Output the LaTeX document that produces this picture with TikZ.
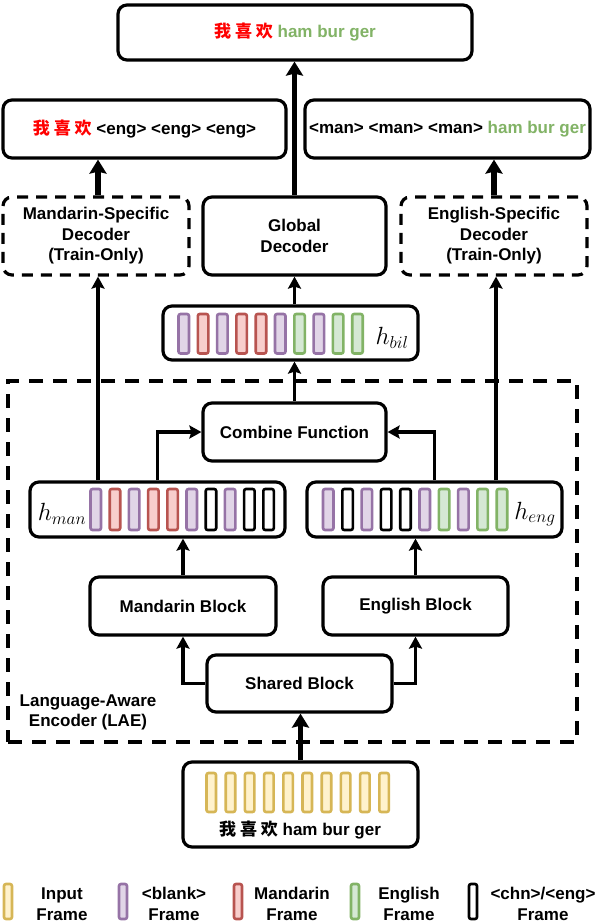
\documentclass[tikz,border=0pt]{standalone}
\usepackage{fontspec}
\setmainfont{Liberation Sans}
\newfontfamily\cjk{Noto Sans CJK SC}
\usetikzlibrary{arrows.meta,calc}
\definecolor{yfill}{HTML}{FFF2CC}\definecolor{ydraw}{HTML}{D6B656}
\definecolor{pfill}{HTML}{E1D5E7}\definecolor{pdraw}{HTML}{9673A6}
\definecolor{rfill}{HTML}{F8CECC}\definecolor{rdraw}{HTML}{B85450}
\definecolor{gfill}{HTML}{D5E8D4}\definecolor{gdraw}{HTML}{82B366}
\definecolor{redtxt}{HTML}{FF0000}\definecolor{greentxt}{HTML}{82B366}
\newcommand\bodyfont{\fontsize{17}{20.5}\selectfont\bfseries}
\newcommand\zh[1]{{\cjk\bfseries #1}}
\begin{document}
\begin{tikzpicture}[x=1pt,y=-1pt,
  box/.style={draw, line width=3.2pt, rounded corners=9pt, align=center, font=\bodyfont, fill=white, inner sep=0pt},
  dbox/.style={box, dash pattern=on 11pt off 8pt},
  arr/.style={line width=3.2pt, -{Stealth[length=12pt,width=13pt,inset=2pt]}},
  tarr/.style={line width=5.2pt, -{Stealth[length=14pt,width=17pt,inset=2pt]}},
  bar/.style={line width=2.6pt, rounded corners=2pt},
  yy/.style={bar, draw=ydraw, fill=yfill},
  pp/.style={bar, draw=pdraw, fill=pfill},
  rr/.style={bar, draw=rdraw, fill=rfill},
  gg/.style={bar, draw=gdraw, fill=gfill},
  kk/.style={bar, draw=black, fill=white},
  mlab/.style={inner sep=0pt, font=\fontsize{23}{23}\selectfont},
  txt/.style={font=\bodyfont, align=center, inner sep=0pt}]
\useasboundingbox (0,0) rectangle (598,924);

% LAE dashed frame
\node[draw, line width=3.4pt, dash pattern=on 14pt off 10pt, minimum width=569pt, minimum height=361pt, inner sep=0pt] (lae) at (292.5,561.5) {};
\node[txt] (laelabel) at (88,712.5) {Language-Aware\\Encoder (LAE)};

% top / outputs
\node[box, minimum width=354pt, minimum height=55pt] (top) at (295,32.5) {\textcolor{redtxt}{\zh{我 喜 欢}} \textcolor{greentxt}{ham bur ger}};
\node[box, minimum width=283pt, minimum height=58pt] (outman) at (144.5,129) {\textcolor{redtxt}{\zh{我 喜 欢}} <eng> <eng> <eng>};
\node[box, minimum width=285pt, minimum height=58pt] (outeng) at (447.5,129) {<man> <man> <man> \textcolor{greentxt}{ham bur ger}};

% decoders
\node[dbox, minimum width=186pt, minimum height=78pt] (manspec) at (96,236) {Mandarin-Specific\\Decoder\\(Train-Only)};
\node[box, minimum width=183pt, minimum height=78pt] (global) at (294.5,236) {Global\\Decoder};
\node[dbox, minimum width=186pt, minimum height=78pt] (engspec) at (494,236) {English-Specific\\Decoder\\(Train-Only)};

% h_bil
\node[box, minimum width=255pt, minimum height=54pt] (hbil) at (290.5,333) {};
\foreach \c [count=\i from 0] in {pp,rr,pp,rr,rr,pp,gg,pp,gg,gg}
  \draw[\c] ({178.5+19.3*\i},314) rectangle ++(10.5,39.5);
\node[mlab] (hbillabel) at (392,338) {$h_{bil}$};

% combine
\node[box, minimum width=183pt, minimum height=58pt] (combine) at (294.5,432) {Combine Function};

% h_man / h_eng
\node[box, minimum width=255pt, minimum height=55pt] (hman) at (157.5,509.5) {};
\foreach \c [count=\i from 0] in {pp,rr,pp,rr,rr,pp,kk,pp,kk,kk}
  \draw[\c] ({90.5+19.2*\i},489) rectangle ++(10.5,41);
\node[mlab] (hmanlabel) at (62,514) {$h_{man}$};
\node[box, minimum width=255pt, minimum height=55pt] (heng) at (434.5,509.5) {};
\foreach \c [count=\i from 0] in {pp,kk,pp,kk,kk,pp,gg,pp,gg,gg}
  \draw[\c] ({323+19.3*\i},489) rectangle ++(10.5,41);
\node[mlab] (henglabel) at (535,514) {$h_{eng}$};

% blocks
\node[box, minimum width=186pt, minimum height=58pt] (mblock) at (183,606) {Mandarin Block};
\node[box, minimum width=185pt, minimum height=58pt] (eblock) at (415.5,606) {English Block};
\node[box, minimum width=185pt, minimum height=57pt] (shared) at (299.5,683.5) {Shared Block};

% input
\node[box, minimum width=235pt, minimum height=85pt] (input) at (300.5,804.5) {};
\foreach \i in {0,...,9}
  \draw[yy] ({206.5+19.2*\i},773) rectangle ++(9.5,39);
\node[txt] (inputtxt) at (300,830) {\zh{我 喜 欢} ham bur ger};

% connectors
\draw[tarr] (input.north) -- (input.north |- shared.south);
\draw[arr] (shared.west) -| (mblock.south);
\draw[arr] (shared.east) -| (eblock.south);
\draw[arr] (mblock.north) -- (mblock.north |- hman.south);
\draw[arr] (eblock.north) -- (eblock.north |- heng.south);
\draw[arr] (hman.north) |- (combine.west);
\draw[arr] (heng.north) |- (combine.east);
\draw[arr] (hman.north -| 98,0) -- (98,0 |- manspec.south);
\draw[arr] (heng.north -| 496,0) -- (496,0 |- engspec.south);
\draw[arr] (combine.north) -- (combine.north |- hbil.south);
\draw[arr] (global.south |- hbil.north) -- (global.south);
\draw[tarr] (global.north) -- (global.north |- top.south);
\draw[tarr] (98,0 |- manspec.north) -- (98,0 |- outman.south);
\draw[tarr] (494,0 |- engspec.north) -- (494,0 |- outeng.south);

% legend
\draw[yy] (4,884) rectangle ++(8,35);
\node[txt] (lgin) at (62,904) {Input\\Frame};
\draw[pp] (119,884) rectangle ++(8,35);
\node[txt] (lgbl) at (174,904) {<blank>\\Frame};
\draw[rr] (234,884) rectangle ++(8,35);
\node[txt] (lgma) at (292,904) {Mandarin\\Frame};
\draw[gg] (351,884) rectangle ++(8,35);
\node[txt] (lgen) at (409,904) {English\\Frame};
\draw[kk] (469,884) rectangle ++(8,35);
\node[txt] (lgck) at (543,904) {<chn>/<eng>\\Frame};
\end{tikzpicture}
\end{document}
